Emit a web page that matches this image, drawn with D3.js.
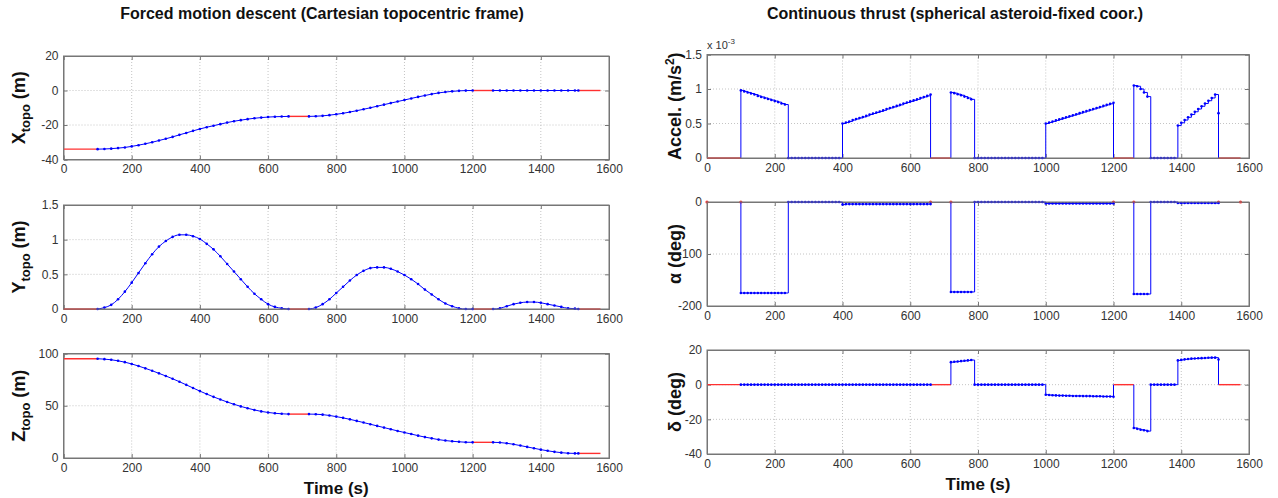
<!DOCTYPE html>
<html>
<head>
<meta charset="utf-8">
<script src="https://cdn.jsdelivr.net/npm/d3@7"></script>
<style>
  body { margin:0; background:#fff; }
  svg text { font-family: Arial, "Liberation Sans", sans-serif; }
</style>
</head>
<body>
<div class="canvas"></div>
<script>
// ---- data ----
const xTicks = [0, 200, 400, 600, 800, 1000, 1200, 1400, 1600];

// coasting phases (red) and the three thrust arcs (blue) in between
const coastSpans = [[0, 100], [660, 720], [1200, 1260], [1510, 1575]];

// sample times: positions every 20 s, controls every 10 s
const tPos = [d3.range(100, 661, 20), d3.range(720, 1201, 20), d3.range(1260, 1501, 20).concat([1510])];
const tCtl = [d3.range(100, 661, 10), d3.range(720, 1201, 10), d3.range(1260, 1511, 10)];

// X topo (m)
const xCoast = [-34, -15, 0, 0];
const xArcs = [
  [-34, -33.9, -33.7, -33.4, -33.0, -32.4, -31.7, -30.9, -30.0, -29.0, -28.0, -26.9, -25.7, -24.6, -23.4,
   -22.3, -21.3, -20.4, -19.5, -18.6, -17.8, -17.2, -16.6, -16.1, -15.7, -15.4, -15.2, -15.1, -15.0],
  [-15.0, -14.9, -14.7, -14.3, -13.8, -13.2, -12.5, -11.7, -10.9, -10.0, -9.1, -8.2, -7.3, -6.4, -5.5,
   -4.6, -3.7, -2.9, -2.1, -1.4, -0.9, -0.5, -0.2, -0.05, 0],
  [0, 0, 0, 0, 0, 0, 0, 0, 0, 0, 0, 0, 0, 0]
];

// Y topo (m)
const yCoast = [0, 0, 0, 0];
const yArcs = [
  [0, 0.02, 0.06, 0.14, 0.25, 0.38, 0.52, 0.66, 0.79, 0.90, 0.98, 1.04, 1.07, 1.07, 1.05,
   1.01, 0.94, 0.86, 0.76, 0.65, 0.54, 0.43, 0.32, 0.22, 0.14, 0.07, 0.03, 0.01, 0],
  [0, 0.02, 0.07, 0.14, 0.23, 0.32, 0.41, 0.49, 0.55, 0.59, 0.60, 0.60, 0.58, 0.54, 0.49,
   0.43, 0.36, 0.28, 0.21, 0.14, 0.08, 0.04, 0.01, 0, 0],
  [0, 0.01, 0.04, 0.07, 0.09, 0.10, 0.10, 0.09, 0.07, 0.05, 0.03, 0.01, 0.005, 0]
];

// Z topo (m)
const zCoast = [95, 42, 15, 4.4];
const zArcs = [
  [95, 94.6, 94.0, 93.0, 91.7, 90.0, 88.0, 85.8, 83.5, 81.0, 78.5, 75.8, 73.0, 70.0, 67.0,
   64.0, 61.2, 58.5, 56.0, 53.6, 51.4, 49.4, 47.6, 46.0, 44.6, 43.6, 42.8, 42.3, 42.0],
  [42.0, 41.9, 41.5, 40.7, 39.6, 38.4, 37.0, 35.5, 33.9, 32.3, 30.7, 29.1, 27.5, 25.9, 24.4,
   22.9, 21.4, 20.0, 18.8, 17.6, 16.7, 16.0, 15.5, 15.1, 15.0],
  [15.0, 14.8, 14.1, 13.1, 11.9, 10.6, 9.3, 8.0, 6.9, 5.9, 5.1, 4.6, 4.4, 4.4]
];

// acceleration (x 1e-3 m/s^2)
const accCoast = [0, 0, 0, 0];
const accArcs = [
  [0.98, 0.965, 0.95, 0.935, 0.92, 0.90, 0.885, 0.87, 0.855, 0.84, 0.825, 0.81, 0.79, 0.775,
   0, 0, 0, 0, 0, 0, 0, 0, 0, 0, 0, 0, 0, 0, 0, 0,
   0.50, 0.515, 0.53, 0.55, 0.565, 0.58, 0.595, 0.61, 0.63, 0.645, 0.66, 0.675, 0.69, 0.71,
   0.725, 0.74, 0.755, 0.77, 0.79, 0.805, 0.82, 0.835, 0.85, 0.87, 0.885, 0.90, 0.92],
  [0.95, 0.94, 0.925, 0.91, 0.89, 0.87, 0.85,
   0, 0, 0, 0, 0, 0, 0, 0, 0, 0, 0, 0, 0, 0, 0, 0, 0, 0, 0, 0, 0,
   0.50, 0.515, 0.53, 0.545, 0.56, 0.575, 0.59, 0.605, 0.62, 0.635, 0.65, 0.665, 0.68, 0.695,
   0.71, 0.725, 0.74, 0.755, 0.77, 0.785, 0.80],
  [1.05, 1.04, 1.00, 0.95, 0.89,
   0, 0, 0, 0, 0, 0, 0, 0,
   0.47, 0.51, 0.55, 0.59, 0.63, 0.67, 0.71, 0.75, 0.79, 0.83, 0.87, 0.92, 0.65]
];

// alpha (deg)
const alphaCoast = [0, 0, 0, 0];
const alphaArcs = [
  [-175, -175, -175, -175, -175, -175, -175, -175, -175, -175, -175, -175, -175, -175,
   0, 0, 0, 0, 0, 0, 0, 0, 0, 0, 0, 0, 0, 0, 0, 0,
   -5, -4, -4, -4, -4, -4, -4, -4, -4, -4, -4, -4, -4, -4, -4, -4, -4, -4, -4, -4, -4, -4, -4, -4, -4, -4, -4],
  [-173, -173, -173, -173, -173, -173, -173,
   0, 0, 0, 0, 0, 0, 0, 0, 0, 0, 0, 0, 0, 0, 0, 0, 0, 0, 0, 0, 0,
   -3, -3, -3, -3, -3, -3, -3, -3, -3, -3, -3, -3, -3, -3, -3, -3, -3, -3, -3, -3, -3],
  [-177, -177, -177, -177, -177,
   0, 0, 0, 0, 0, 0, 0, 0,
   -2, -2, -2, -2, -2, -2, -2, -2, -2, -2, -2, -2, -2]
];

// delta (deg)
const deltaCoast = [0, 0, 0, 0];
const deltaArcs = [
  [0, 0, 0, 0, 0, 0, 0, 0, 0, 0, 0, 0, 0, 0, 0, 0, 0, 0, 0, 0, 0, 0, 0, 0, 0, 0, 0, 0, 0,
   0, 0, 0, 0, 0, 0, 0, 0, 0, 0, 0, 0, 0, 0, 0, 0, 0, 0, 0, 0, 0, 0, 0, 0, 0, 0, 0, 0],
  [13.0, 13.2, 13.4, 13.6, 13.8, 14.0, 14.2,
   0, 0, 0, 0, 0, 0, 0, 0, 0, 0, 0, 0, 0, 0, 0, 0, 0, 0, 0, 0, 0,
   -5.8, -6.0, -6.1, -6.2, -6.3, -6.3, -6.4, -6.4, -6.5, -6.5, -6.5, -6.6, -6.6, -6.6,
   -6.7, -6.7, -6.7, -6.8, -6.8, -6.8, -7.0],
  [-25.0, -25.5, -26.0, -26.3, -26.8,
   0, 0, 0, 0, 0, 0, 0, 0,
   14.0, 14.3, 14.6, 14.8, 15.0, 15.1, 15.2, 15.3, 15.4, 15.5, 15.6, 15.6, 14.5]
];

// ---- drawing ----
const svg = d3.select('.canvas')
              .append('svg')
              .attr('width', 1278)
              .attr('height', 498);

const blue = '#0000ff';
const red = '#ff3030';

const drawPanel = (p) => {
  const x = d3.scaleLinear().domain([0, 1600]).range([0, p.w]);
  const y = d3.scaleLinear().domain(p.yDomain).range([p.h, 0]);

  const g = svg.append('g')
               .attr('transform', `translate(${p.left}, ${p.top})`);

  // dotted grid
  const grid = g.append('g')
                .attr('stroke', '#c4c4c4')
                .attr('stroke-width', 1)
                .attr('stroke-dasharray', '1,2');
  grid.selectAll('.gx')
      .data(xTicks.slice(1, -1))
      .enter().append('line')
      .attr('x1', d => x(d)).attr('x2', d => x(d))
      .attr('y1', 0).attr('y2', p.h);
  grid.selectAll('.gy')
      .data(p.yTicks.filter(d => d !== p.yDomain[0] && d !== p.yDomain[1]))
      .enter().append('line')
      .attr('x1', 0).attr('x2', p.w)
      .attr('y1', d => y(d)).attr('y2', d => y(d));

  // axes, ticks point inwards like matlab
  const xAxis = d3.axisBottom(x).tickValues(xTicks).tickSize(-4).tickPadding(5).tickFormat(d => d);
  const yAxis = d3.axisLeft(y).tickValues(p.yTicks).tickSize(-4).tickPadding(5).tickFormat(d => d);
  const xTop = d3.axisTop(x).tickValues(xTicks).tickSize(-4).tickFormat('');
  const yRight = d3.axisRight(y).tickValues(p.yTicks).tickSize(-4).tickFormat('');

  g.append('g').attr('class', 'ax').attr('transform', `translate(0, ${p.h})`).call(xAxis);
  g.append('g').attr('class', 'ax').call(yAxis);
  g.append('g').attr('class', 'ax').call(xTop);
  g.append('g').attr('class', 'ax').attr('transform', `translate(${p.w}, 0)`).call(yRight);

  g.selectAll('.ax path, .ax line').attr('stroke', '#777');
  g.selectAll('.ax text').attr('fill', '#333').style('font-size', '12px');

  const line = d3.line()
                 .x(d => x(d[0]))
                 .y(d => y(d[1]))
                 .curve(p.curve);

  // red coasting phases
  coastSpans.forEach((s, i) => {
    const pts = [[s[0], p.coast[i]], [s[1], p.coast[i]]];
    if (p.redDots) {
      g.selectAll(null).data(pts).enter().append('circle')
       .attr('cx', d => x(d[0])).attr('cy', d => y(d[1]))
       .attr('r', 1.6).attr('fill', red);
    } else {
      g.append('path').datum(pts)
       .attr('fill', 'none').attr('stroke', red).attr('stroke-width', 1.4)
       .attr('d', d3.line().x(d => x(d[0])).y(d => y(d[1])));
    }
  });

  // blue thrust arcs with dot markers
  p.times.forEach((ts, k) => {
    const pts = ts.map((t, j) => [t, p.arcs[k][j]]);
    let path = pts;
    if (p.step) {
      // start from and drop back to the coast level
      path = [[ts[0], p.coast[k]]].concat(pts, [[ts[ts.length - 1], p.coast[k + 1]]]);
    }
    g.append('path').datum(path)
     .attr('fill', 'none').attr('stroke', blue).attr('stroke-width', 1)
     .attr('d', line);
    g.selectAll(null).data(pts).enter().append('circle')
     .attr('cx', d => x(d[0])).attr('cy', d => y(d[1]))
     .attr('r', 1.3).attr('fill', blue);
  });

  // box
  g.append('rect')
   .attr('width', p.w).attr('height', p.h)
   .attr('fill', 'none').attr('stroke', '#777').attr('stroke-width', 1);

  // y label (rotated), parts can be sub/superscript
  const lab = g.append('text')
               .attr('transform', `translate(${p.labelX - p.left}, ${p.h / 2}) rotate(-90)`)
               .attr('text-anchor', 'middle')
               .attr('font-weight', 'bold')
               .attr('font-size', '18px')
               .attr('fill', '#111');
  p.yLabel.forEach(part => {
    lab.append('tspan')
       .attr('dy', part.dy || 0)
       .attr('font-size', part.size || '18px')
       .text(part.t);
  });

  if (p.xLabel) {
    g.append('text')
     .attr('x', p.w / 2).attr('y', p.h + 36)
     .attr('text-anchor', 'middle')
     .attr('font-weight', 'bold').attr('font-size', '17px').attr('fill', '#111')
     .text('Time (s)');
  }
  return g;
};

const leftX = 63.5, leftW = 545.5;
const rightX = 707, rightW = 542;

drawPanel({ left: leftX, top: 56, w: leftW, h: 103.5, yDomain: [-40, 20], yTicks: [-40, -20, 0, 20],
  times: tPos, arcs: xArcs, coast: xCoast, curve: d3.curveMonotoneX, labelX: 25,
  yLabel: [{ t: 'X' }, { t: 'topo', dy: 5, size: '13px' }, { t: ' (m)', dy: -5 }] });
drawPanel({ left: leftX, top: 205, w: leftW, h: 104, yDomain: [0, 1.5], yTicks: [0, 0.5, 1, 1.5],
  times: tPos, arcs: yArcs, coast: yCoast, curve: d3.curveMonotoneX, labelX: 25,
  yLabel: [{ t: 'Y' }, { t: 'topo', dy: 5, size: '13px' }, { t: ' (m)', dy: -5 }] });
drawPanel({ left: leftX, top: 353.5, w: leftW, h: 104.5, yDomain: [0, 100], yTicks: [0, 50, 100],
  times: tPos, arcs: zArcs, coast: zCoast, curve: d3.curveMonotoneX, labelX: 25, xLabel: true,
  yLabel: [{ t: 'Z' }, { t: 'topo', dy: 5, size: '13px' }, { t: ' (m)', dy: -5 }] });

const accPanel = drawPanel({ left: rightX, top: 54.5, w: rightW, h: 103.5, yDomain: [0, 1.5], yTicks: [0, 0.5, 1, 1.5],
  times: tCtl, arcs: accArcs, coast: accCoast, curve: d3.curveStepAfter, step: true, labelX: 681,
  yLabel: [{ t: 'Accel. (m/s' }, { t: '2', dy: -7, size: '12px' }, { t: ')', dy: 7 }] });
drawPanel({ left: rightX, top: 202, w: rightW, h: 104, yDomain: [-200, 0], yTicks: [-200, -100, 0],
  times: tCtl, arcs: alphaArcs, coast: alphaCoast, curve: d3.curveStepAfter, step: true, redDots: true, labelX: 681,
  yLabel: [{ t: 'α (deg)' }] });
drawPanel({ left: rightX, top: 350, w: rightW, h: 104, yDomain: [-40, 20], yTicks: [-40, -20, 0, 20],
  times: tCtl, arcs: deltaArcs, coast: deltaCoast, curve: d3.curveStepAfter, step: true, labelX: 681, xLabel: true,
  yLabel: [{ t: 'δ (deg)' }] });

// exponent note of the accel axis
const expo = accPanel.append('text')
                     .attr('x', 0).attr('y', -6)
                     .attr('font-size', '11px').attr('fill', '#333');
expo.append('tspan').text('x 10');
expo.append('tspan').attr('dy', -5).attr('font-size', '8px').text('-3');

// titles
svg.append('text')
   .attr('x', 322).attr('y', 19)
   .attr('text-anchor', 'middle')
   .attr('font-weight', 'bold').attr('font-size', '16px').attr('fill', '#111')
   .text('Forced motion descent (Cartesian topocentric frame)');
svg.append('text')
   .attr('x', 955).attr('y', 19)
   .attr('text-anchor', 'middle')
   .attr('font-weight', 'bold').attr('font-size', '16px').attr('fill', '#111')
   .text('Continuous thrust (spherical asteroid-fixed coor.)');
</script>
</body>
</html>
